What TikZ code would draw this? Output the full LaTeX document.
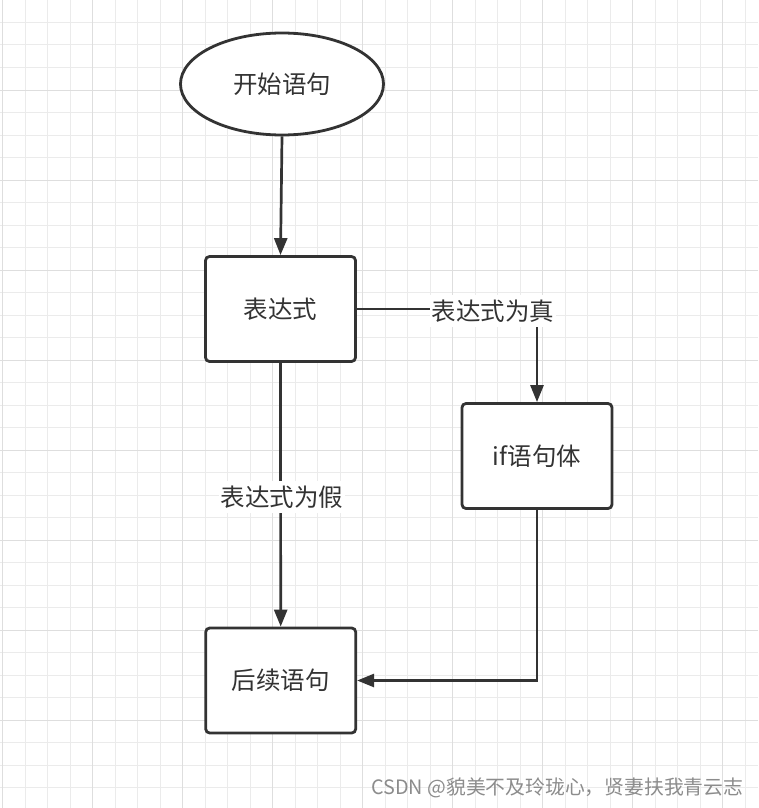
\documentclass[tikz,border=0pt]{standalone}
\usepackage{fontspec}
\setmainfont{Noto Sans CJK SC}
\usetikzlibrary{shapes.geometric,arrows.meta}
\definecolor{ink}{HTML}{333333}
\definecolor{gridminor}{HTML}{EBEBEB}
\definecolor{gridmajor}{HTML}{DEDEDE}
\definecolor{wmark}{HTML}{8C8C8C}
\begin{document}
\begin{tikzpicture}[x=1pt,y=-1pt,
  gminor/.style={draw=gridminor, line width=1pt},
  gmajor/.style={draw=gridmajor, line width=1pt},
  txt/.style={font=\fontsize{24.5}{29}\selectfont, text=ink},
  stepbox/.style={txt, draw=ink, line width=2.8pt, rounded corners=4pt, fill=white,
    minimum width=150pt, minimum height=105pt, inner sep=0pt},
  startnode/.style={txt, ellipse, draw=ink, line width=2.8pt, fill=white,
    minimum width=203pt, minimum height=102pt, inner sep=0pt},
  conn/.style={draw=ink, line width=2.7pt, -{Triangle[length=17pt,width=13pt]}},
  lbl/.style={txt, fill=white, inner xsep=2pt, inner ysep=5pt}
]
\fill[white] (0,0) rectangle (758,808);
\useasboundingbox (0,0) rectangle (758,808);
% grid
\foreach \i in {0,...,33} \draw[gminor] ({2.5+22.5*\i},0) -- ({2.5+22.5*\i},808);
\foreach \j in {1,...,35} \draw[gminor] (0,{22.5*\j}) -- (758,{22.5*\j});
\foreach \i in {0,...,8} \draw[gmajor] ({2.5+90*\i},0) -- ({2.5+90*\i},808);
\foreach \j in {1,...,8} \draw[gmajor] (0,{90*\j}) -- (758,{90*\j});

% nodes
\node[startnode] (start) at (282,84) {开始语句};
\node[stepbox] (expr) at (280.5,309) {表达式};
\node[stepbox] (ifb) at (537,456) {if语句体};
\node[stepbox] (next) at (280.7,680.5) {后续语句};

% connectors
\draw[conn] (start.south) -- (expr.north);
\draw[conn] (expr.east) -| (ifb.north);
\draw[conn] (expr.south) -- (next.north);
\draw[conn] (ifb.south) |- (next.east);

% labels
\node[lbl] (ltrue) at (493,311) {表达式为真};
\node[lbl] (lfalse) at (282,497) {表达式为假};

% watermark
\node[anchor=west, inner sep=0pt, text=wmark, font=\fontsize{19.8}{22}\selectfont] (wm) at (371,788) {CSDN @貌美不及玲珑心，贤妻扶我青云志};
\end{tikzpicture}
\end{document}
